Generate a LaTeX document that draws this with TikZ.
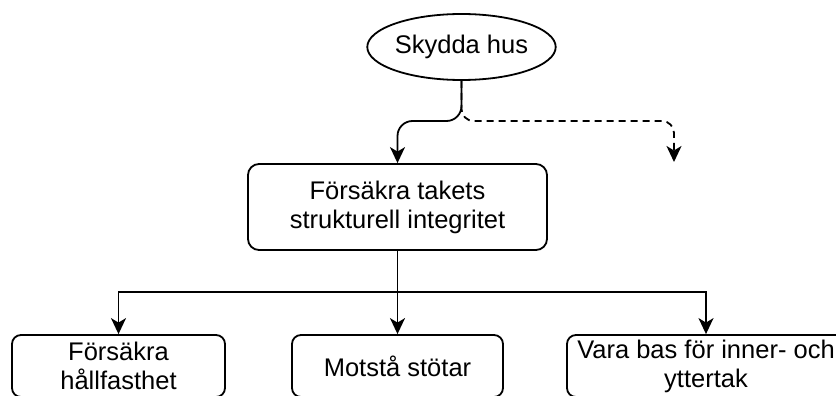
\documentclass[tikz,border=0pt]{standalone}
\usepackage{fontspec}
\setmainfont{Liberation Sans}
\usetikzlibrary{arrows.meta,shapes.geometric}
\begin{document}
\begin{tikzpicture}[x=1pt,y=-1pt,
  every node/.style={font=\fontsize{25.5}{29}\selectfont},
  line/.style={line width=1.8pt},
  box/.style={line, draw, rounded corners=11pt, inner sep=0pt, align=center},
  goalbox/.style={line, draw, ellipse, inner sep=0pt},
  link/.style={line, -{Stealth[length=16pt,width=15pt,inset=4.5pt]}},
  option/.style={link, dash pattern=on 7pt off 5pt},
]
\useasboundingbox (0,0) rectangle (836,396);

% goal and decomposition
\node[goalbox, minimum width=171pt, minimum height=66pt] (goal) at (461.5,47) {Skydda hus};
\node[box, minimum width=299pt, minimum height=86pt] (mid) at (397.5,207)
  {Försäkra takets\\strukturell integritet};
\node[box, rounded corners=9pt, minimum width=213pt, minimum height=62pt] (b1) at (118.5,366)
  {Försäkra\\hållfasthet};
\node[box, rounded corners=9pt, minimum width=211pt, minimum height=62pt] (b2) at (397.5,366)
  {Motstå stötar};
\node[box, rounded corners=9pt, minimum width=278pt, minimum height=62pt] (b3) at (706,366)
  {Vara bas för inner- och\\yttertak};

% turning points of the connectors
\coordinate (dashTurn) at (674,121);
\coordinate (dashEnd) at (674,162);
\coordinate (midTurn) at (mid.north |- dashTurn);
\coordinate (bus) at (397.5,292);

% alternative (open) refinement
\draw[option] (goal.south) [rounded corners=12pt] |- (dashTurn) [sharp corners] -- (dashEnd);
% chosen refinement
\draw[link] (goal.south) [rounded corners=15pt] |- (midTurn) [sharp corners] -- (mid.north);

% sub-goals
\draw[link] (mid.south) -- (b2.north);
\draw[link] (bus) -| (b1.north);
\draw[link] (bus) -| (b3.north);
\end{tikzpicture}
\end{document}
